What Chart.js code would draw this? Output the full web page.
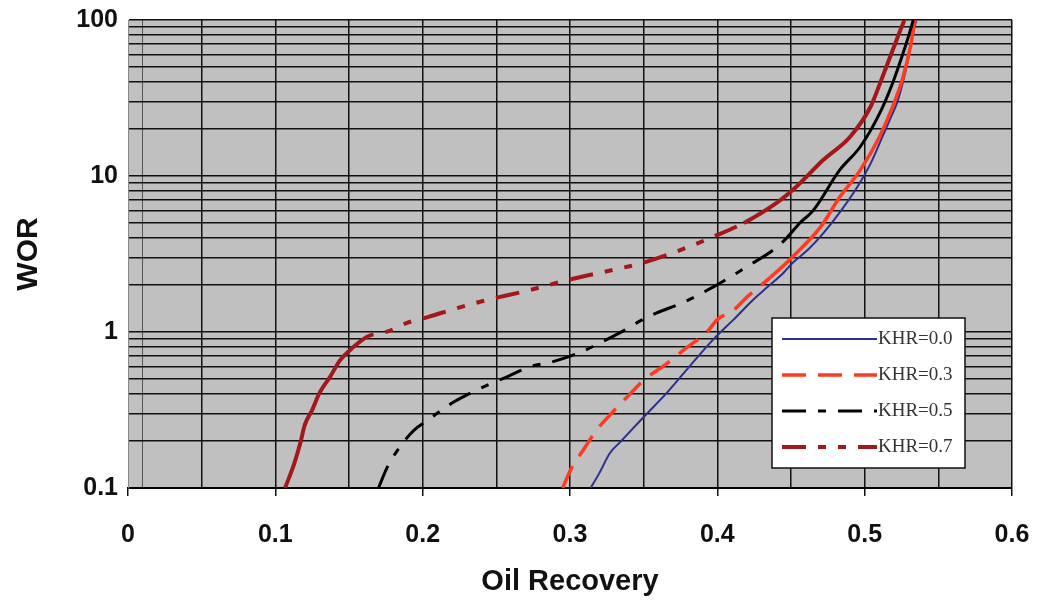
<!DOCTYPE html>
<html>
<head>
<meta charset="utf-8">
<title>WOR vs Oil Recovery</title>
<script src="https://cdn.jsdelivr.net/npm/chart.js@4.4.1/dist/chart.umd.min.js"></script>
<style>
  html, body { margin: 0; padding: 0; background: #fff; }
  #wrap { width: 1037px; height: 604px; position: relative; }
</style>
</head>
<body>
<div id="wrap"><canvas id="worChart"></canvas></div>
<script>
// ---- data: oil recovery (fraction) vs water-oil ratio per KHR case ----

const KHR00_REC = [0.314, 0.320, 0.327, 0.334, 0.350, 0.366, 0.381, 0.397, 0.411, 0.424, 0.434, 0.445, 0.451, 0.462, 0.472, 0.484, 0.495, 0.504, 0.512, 0.518, 0.522, 0.526, 0.529, 0.532, 0.535];
const KHR00_WOR = [0.1, 0.125, 0.167, 0.197, 0.285, 0.41, 0.60, 0.89, 1.20, 1.60, 1.94, 2.4, 2.77, 3.4, 4.3, 6.0, 8.5, 12, 17.8, 24, 29.5, 40, 53, 75, 100];

const KHR03_REC = [0.295, 0.301, 0.309, 0.318, 0.327, 0.339, 0.350, 0.366, 0.379, 0.393, 0.400, 0.411, 0.420, 0.436, 0.451, 0.470, 0.483, 0.497, 0.510, 0.519, 0.526, 0.531, 0.534];
const KHR03_WOR = [0.1, 0.134, 0.175, 0.235, 0.293, 0.385, 0.49, 0.63, 0.79, 1.0, 1.2, 1.38, 1.67, 2.24, 3.03, 4.7, 7.3, 10.9, 17.8, 27.8, 43, 67, 100];

const KHR05_REC = [0.170, 0.176, 0.183, 0.194, 0.203, 0.220, 0.230, 0.244, 0.258, 0.273, 0.287, 0.307, 0.318, 0.334, 0.345, 0.356, 0.377, 0.397, 0.411, 0.422, 0.438, 0.447, 0.456, 0.465, 0.483, 0.497, 0.510, 0.519, 0.526, 0.530, 0.533];
const KHR05_WOR = [0.1, 0.136, 0.175, 0.234, 0.27, 0.351, 0.395, 0.457, 0.52, 0.60, 0.64, 0.74, 0.83, 0.99, 1.14, 1.29, 1.55, 1.94, 2.32, 2.69, 3.36, 4.0, 5.0, 6.0, 10.9, 15.4, 25, 39.5, 61, 80, 100];

const KHR07_REC = [0.1066, 0.113, 0.117, 0.120, 0.125, 0.130, 0.137, 0.144, 0.153, 0.162, 0.178, 0.189, 0.204, 0.223, 0.241, 0.273, 0.298, 0.329, 0.348, 0.370, 0.397, 0.418, 0.440, 0.454, 0.472, 0.490, 0.504, 0.512, 0.519, 0.524, 0.527];
const KHR07_WOR = [0.1, 0.145, 0.195, 0.254, 0.316, 0.407, 0.513, 0.66, 0.80, 0.93, 1.02, 1.14, 1.25, 1.42, 1.58, 1.86, 2.15, 2.5, 2.75, 3.22, 4.07, 5.0, 6.7, 8.6, 12.7, 17.8, 27.8, 43, 64, 85, 100];

const SERIES_LABELS = ["KHR=0.0", "KHR=0.3", "KHR=0.5", "KHR=0.7"];

// axis ticks
const X_LABELS = [0, 0.1, 0.2, 0.3, 0.4, 0.5, 0.6];
const X_GRID = [0, 0.01, 0.05, 0.1, 0.15, 0.2, 0.25, 0.3, 0.35, 0.4, 0.45, 0.5, 0.55, 0.6];
const Y_LABELS = [0.1, 1, 10, 100];

// ---- styles ----

const FONT = "'Liberation Sans', Arial, sans-serif";
const PLOT_BG = "#c0c0c0";
const GRID = "#111";

const NAVY = "#2b2f8f";
const RED = "#ff3b1f";
const BLACK = "#000000";
const MAROON = "#a3181a";

// log grid: 1..9 in every decade
const yGrid = [];
Y_LABELS.slice(0, -1).forEach(d => {
  for (let m = 1; m < 10; m++) yGrid.push(m * d);
});
yGrid.push(Y_LABELS[Y_LABELS.length - 1]);

const toPoints = (rec, wor) => rec.map((r, i) => ({ x: r, y: wor[i] }));

// dashed lines turn solid where points get dense on the steep part
const solidWhere = test => ({
  borderDash: ctx => (test(ctx.p0.parsed.y, ctx.p1.parsed.y) ? [] : undefined)
});


// ---- plugins ----

const plotBackground = {
  id: "plotBackground",
  beforeDraw(chart) {
    const { ctx, chartArea: a } = chart;
    ctx.save();
    ctx.fillStyle = PLOT_BG;
    ctx.fillRect(a.left, a.top, a.right - a.left, a.bottom - a.top);
    ctx.restore();
  }
};

const insideLegend = {
  id: "insideLegend",
  afterDraw(chart) {
    const { ctx, chartArea: a } = chart;
    const x = a.left + 644;
    const y = a.top + 298;
    const w = 193;
    const h = 150;

    ctx.save();
    ctx.fillStyle = "#fff";
    ctx.fillRect(x, y, w, h);
    ctx.strokeStyle = "#111";
    ctx.lineWidth = 1.5;
    ctx.strokeRect(x, y, w, h);

    chart.data.datasets.forEach((ds, i) => {
      const ly = y + 21 + i * 36;

      ctx.beginPath();
      ctx.setLineDash(ds.borderDash || []);
      ctx.strokeStyle = ds.borderColor;
      ctx.lineWidth = ds.borderWidth;
      ctx.moveTo(x + 10, ly);
      ctx.lineTo(x + 105, ly);
      ctx.stroke();

      ctx.setLineDash([]);
      ctx.fillStyle = "#333";
      ctx.font = "19px 'Liberation Serif', 'Times New Roman', serif";
      ctx.textBaseline = "middle";
      ctx.textAlign = "left";
      ctx.fillText(ds.label, x + 106, ly);
    });

    ctx.restore();
  }
};


// ---- chart ----

new Chart(document.getElementById("worChart"), {
  type: "line",
  data: {
    datasets: [
      {
        label: SERIES_LABELS[0],
        data: toPoints(KHR00_REC, KHR00_WOR),
        borderColor: NAVY,
        borderWidth: 2,
        order: 4
      },
      {
        label: SERIES_LABELS[1],
        data: toPoints(KHR03_REC, KHR03_WOR),
        borderColor: RED,
        borderWidth: 3.5,
        borderDash: [24, 12],
        segment: solidWhere(y0 => y0 >= 2.2),
        order: 3
      },
      {
        label: SERIES_LABELS[2],
        data: toPoints(KHR05_REC, KHR05_WOR),
        borderColor: BLACK,
        borderWidth: 3,
        borderDash: [24, 12, 8, 12],
        segment: solidWhere(y0 => y0 >= 4),
        order: 2
      },
      {
        label: SERIES_LABELS[3],
        data: toPoints(KHR07_REC, KHR07_WOR),
        borderColor: MAROON,
        borderWidth: 4,
        borderDash: [24, 12, 8, 12, 8, 12],
        segment: solidWhere((y0, y1) => y0 >= 5 || y1 <= 0.9),
        order: 1
      }
    ]
  },
  options: {
    responsive: true,
    maintainAspectRatio: false,
    animation: false,
    layout: { padding: { left: 0, right: 25, top: 20, bottom: 0 } },
    elements: {
      point: { radius: 0, hoverRadius: 0 },
      line: { cubicInterpolationMode: "monotone", fill: false }
    },
    plugins: {
      legend: { display: false },
      tooltip: { enabled: false }
    },
    scales: {
      x: {
        type: "linear",
        min: 0,
        max: 0.6,
        afterBuildTicks: s => { s.ticks = X_GRID.map(v => ({ value: v })); },
        afterFit: s => {
          s.height = 116;
          s.paddingLeft = 0;
          s.paddingRight = 0;
        },
        ticks: {
          autoSkip: false,
          maxRotation: 0,
          padding: 24,
          color: "#111",
          font: { family: FONT, size: 25, weight: "bold" },
          callback: v => (X_LABELS.includes(v) ? String(v) : "")
        },
        grid: {
          color: ctx => {
            const v = ctx.tick && ctx.tick.value;
            if (v === 0) return "transparent";
            if (v === 0.01) return "#555";
            return GRID;
          },
          lineWidth: ctx => (ctx.tick && ctx.tick.value === 0.01 ? 1 : 1.5),
          tickLength: 8,
          tickColor: ctx => (X_LABELS.includes(ctx.tick && ctx.tick.value) ? "#111" : "transparent"),
          tickWidth: 1.5
        },
        border: { color: "#000", width: 2 },
        title: {
          display: true,
          text: "Oil Recovery",
          color: "#111",
          font: { family: FONT, size: 29, weight: "bold" },
          padding: { top: 0, bottom: 5 }
        }
      },
      y: {
        type: "logarithmic",
        min: 0.1,
        max: 100,
        afterBuildTicks: s => { s.ticks = yGrid.map(v => ({ value: v })); },
        afterFit: s => {
          s.width = 128;
          s.paddingTop = 0;
          s.paddingBottom = 0;
        },
        ticks: {
          autoSkip: false,
          padding: 10,
          color: "#111",
          font: { family: FONT, size: 25, weight: "bold" },
          callback: v => (Y_LABELS.includes(v) ? String(v) : "")
        },
        grid: {
          drawTicks: false,
          color: GRID,
          lineWidth: 1.5
        },
        border: { color: "#888", width: 1 },
        title: {
          display: true,
          text: "WOR",
          color: "#111",
          font: { family: FONT, size: 30, weight: "bold" },
          padding: { top: 11, bottom: 0 }
        }
      }
    }
  },
  plugins: [plotBackground, insideLegend]
});
</script>
</body>
</html>
